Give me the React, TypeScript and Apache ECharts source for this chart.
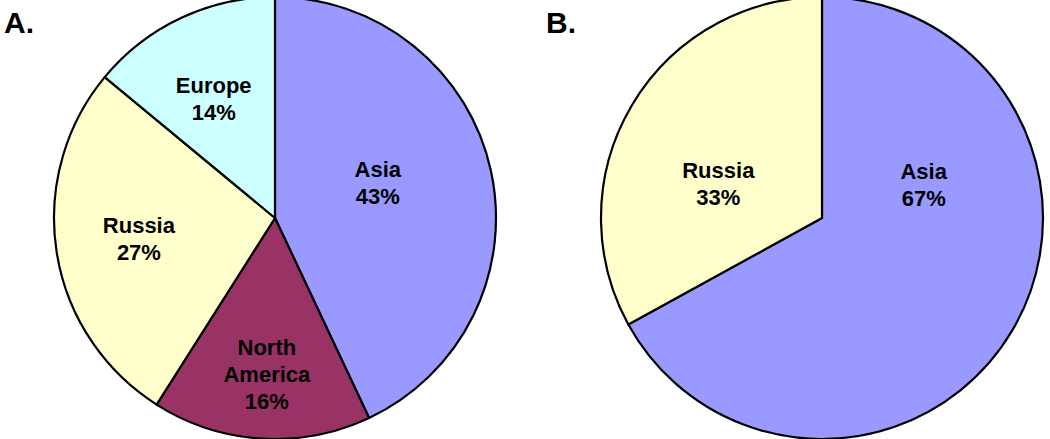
import React, { useEffect, useRef } from "react";
import * as echarts from "echarts";

const regionsA = ["Asia", "North America", "Russia", "Europe"];
const valuesA = [43, 16, 27, 14];
const regionsB = ["Asia", "Russia"];
const valuesB = [67, 33];
const panelTitles = ["A.", "B."];

const colorMap: Record<string, string> = {
  Asia: "#9999FF",
  "North America": "#993366",
  Russia: "#FFFFCC",
  Europe: "#CCFFFF",
};

// label nudges (dx, dy) to mimic the original label placement
const nudgeA = [
  [-8, -10],
  [-1, 43],
  [-24, 3],
  [-13, -16],
];
const nudgeB = [
  [4, -91],
  [-6, 24],
];

const FONT = "'Liberation Sans', Arial, Helvetica, sans-serif";

function makeSeries(names: string[], values: number[], center: [number, number], nudge: number[][]) {
  return {
    type: "pie",
    center,
    radius: 221,
    startAngle: 90,
    clockwise: true,
    avoidLabelOverlap: false,
    silent: true,
    itemStyle: { borderColor: "#000", borderWidth: 2.2 },
    label: {
      show: true,
      position: "inside",
      color: "#000",
      fontFamily: FONT,
      fontWeight: "bold",
      fontSize: 22,
      lineHeight: 27,
      align: "center",
      verticalAlign: "middle",
      formatter: (p: any) => p.name.replace(" ", "\n") + "\n" + p.value + "%",
    },
    labelLine: { show: false },
    labelLayout: (p: any) => ({ dx: nudge[p.dataIndex][0], dy: nudge[p.dataIndex][1] }),
    data: names.map((n, i) => ({ name: n, value: values[i], itemStyle: { color: colorMap[n] } })),
  };
}

export default function App() {
  const ref = useRef<HTMLDivElement>(null);
  useEffect(() => {
    if (!ref.current) return;
    const chart = echarts.init(ref.current, undefined, { renderer: "svg" });
    chart.setOption({
      animation: false,
      backgroundColor: "#fff",
      title: [
        {
          text: panelTitles[0],
          left: -1,
          top: 2,
          textStyle: { fontFamily: FONT, fontWeight: "bold", fontSize: 30, color: "#000" },
        },
        {
          text: panelTitles[1],
          left: 541,
          top: 2,
          textStyle: { fontFamily: FONT, fontWeight: "bold", fontSize: 30, color: "#000" },
        },
      ],
      series: [
        makeSeries(regionsA, valuesA, [275, 218], nudgeA),
        makeSeries(regionsB, valuesB, [822, 218], nudgeB),
      ],
    });
    return () => chart.dispose();
  }, []);
  return (
    <div
      ref={ref}
      style={{ position: "fixed", left: 0, top: 0, width: 1050, height: 439 }}
    />
  );
}
